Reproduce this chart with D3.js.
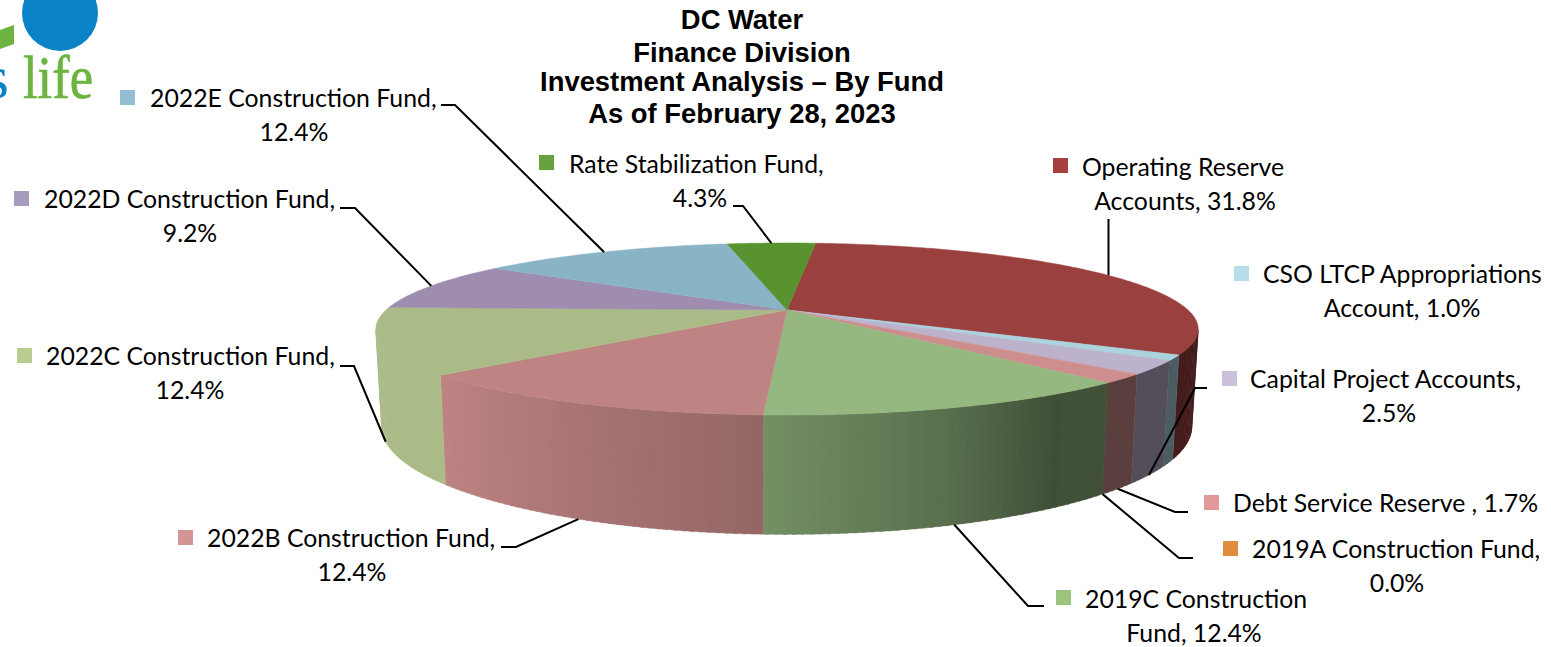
<!DOCTYPE html>
<html>
<head>
<meta charset="utf-8">
<script src="https://cdn.jsdelivr.net/npm/d3@7"></script>
<style>
html, body { margin: 0; padding: 0; background: #fff; }
svg { display: block; }
.title { font-family: "Liberation Sans", Arial, sans-serif; font-weight: bold; font-size: 27.4px; fill: #000; text-anchor: middle; }
.lbl { font-family: Lato, "Open Sans", sans-serif; font-size: 24.8px; fill: #000; }
</style>
</head>
<body>
<svg id="chart" width="1551" height="647"></svg>
<script>
var titleLines = ["DC Water", "Finance Division", "Investment Analysis \u2013 By Fund", "As of February 28, 2023"];

// clockwise from the top of the pie
var categories = ["Operating Reserve Accounts", "CSO LTCP Appropriations Account", "Capital Project Accounts",
	"Debt Service Reserve ", "2019A Construction Fund", "2019C Construction Fund", "2022B Construction Fund",
	"2022C Construction Fund", "2022D Construction Fund", "2022E Construction Fund", "Rate Stabilization Fund"];
var values = [31.8, 1.0, 2.5, 1.7, 0.0, 12.4, 12.4, 12.4, 9.2, 12.4, 4.3];
var topColors = ["#9a403e", "#aad3de", "#bcb2cc", "#ce8e8d", "#e08b3e", "#94b880", "#be8483", "#abbb88", "#9e8daf", "#88b4c6", "#59932f"];
var keyColors = ["#a5403e", "#b7dee8", "#ccc1da", "#e09a99", "#e08b3e", "#9bc57f", "#d39594", "#b8cc8f", "#a99bbd", "#93bdd2", "#68a23d"];

// label placement, same order as categories: [key x, key y, first line x, second line centre]
var labelPos = [[1053,158,1082,1185], [1234,266,1263,1402], [1222,371,1250,1389], [1204,495,1233,null], [1223,541,1252,1397],
	[1056,590,1085,1194], [178,530,207,352], [17,348,46,190], [14,191,44,190], [120,90,150,294], [539,155,569,700]];
// characters of the "name, value%" text that stay on the first line (null = all)
var labelBreak = ["Operating Reserve", "CSO LTCP Appropriations", null, null, null, "2019C Construction", null, null, null, null, null];
// elbow of each leader: [elbow x, elbow y, end x] (null = no leader)
var leaders = [[null,219,null], null, [1195,388,1207], [1175,512,1188], [1179,558,1193],
	[1028,606,1044], [516,547,501], [354,366,340], [355,208,340], [455,105,441], [743,206,733]];

var svg = d3.select("#chart");
var toRad = Math.PI / 180;

//tilted disc: near side is bigger than far side
var cx = 787, cy = 310, rx = 401, ry = 81.8, persp = 0.221, wallH = 93, wallPinch = 0.985, wallCx = 770;
function project(a, bottom) {
	var u = Math.sin(a), v = Math.cos(a);
	var s = 1 / (1 + persp * v);
	var x = cx + rx * u * s, y = cy - ry * v * s;
	if (bottom) {
		x = wallCx + (x - wallCx) * wallPinch;
		y = y + wallH * s;
	}
	return [x, y];
}

var pie = d3.pie().sort(null).value(function(d) { return d; })
	.startAngle(5 * toRad).endAngle(365 * toRad);
var arcs = pie(values);

var shade = d3.scaleLinear().domain([146, 161, 183, 228]).range([0.42, 0.6, 0.78, 1]).clamp(true);
function wallColor(base, deg) {
	var c = d3.rgb(base), f = deg < 146 ? 0.44 : shade(deg);
	return d3.rgb(c.r * f, c.g * f, c.b * f).formatRgb();
}

//logo scrap in the corner
var logo = svg.append("g");
logo.append("circle").attr("cx", 60).attr("cy", 13).attr("r", 38).attr("fill", "#0a82c6");
logo.append("path").attr("d", "M0,30L14,25L14,44L0,49Z").attr("fill", "#6db33f");
logo.append("text").attr("x", 23).attr("y", 98).attr("textLength", 70).attr("lengthAdjust", "spacingAndGlyphs")
	.style("font", "62px 'Liberation Serif'").attr("fill", "#6db33f").attr("stroke", "#6db33f").attr("stroke-width", 0.7).text("life");
logo.append("text").attr("x", 9).attr("y", 98).attr("text-anchor", "end")
	.style("font", "62px 'Liberation Serif'").attr("fill", "#0a82c6").text("s");

//side wall, cut in thin strips so the shading follows the rim
var wallFrom = 102.8, wallTo = 257.2;
var walls = svg.append("g");
arcs.forEach(function(d, i) {
	var a0 = Math.max(d.startAngle / toRad, wallFrom), a1 = Math.min(d.endAngle / toRad, wallTo);
	for (var a = a0; a < a1; a += 1) {
		var b = Math.min(a + 1.3, a1);
		var p = [project(a * toRad), project(b * toRad), project(b * toRad, true), project(a * toRad, true)];
		var col = wallColor(topColors[i], a + 0.5);
		walls.append("path").attr("d", "M" + p.join("L") + "Z").attr("fill", col)
			.attr("stroke", col).attr("stroke-width", 0.4);
	}
});

//top of the pie
var topFace = svg.append("g");
var rimLine = d3.line();
topFace.selectAll("path").data(arcs).enter().append("path")
	.attr("d", function(d) {
		var pts = [[cx, cy]];
		var n = Math.ceil((d.endAngle - d.startAngle) / toRad);
		for (var k = 0; k <= n; k++)
			pts.push(project(d.startAngle + (d.endAngle - d.startAngle) * k / n));
		return rimLine(pts) + "Z";
	})
	.attr("fill", function(d, i) { return topColors[i]; })
	.attr("stroke", function(d, i) { return d.value > 0 ? topColors[i] : "none"; })
	.attr("stroke-width", 0.5);

//leaders: start on the rim at the middle of the slice
var leaderGroup = svg.append("g").attr("fill", "none").attr("stroke", "#000").attr("stroke-width", 2);
arcs.forEach(function(d, i) {
	if (!leaders[i]) return;
	var mid = (d.startAngle + d.endAngle) / 2;
	var deg = mid / toRad;
	var front = deg > wallFrom && deg < wallTo;
	var start = project(mid, front);
	var e = leaders[i];
	var pts = [start, [e[0] === null ? start[0] : e[0], e[1]]];
	if (e[2] !== null) pts.push([e[2], e[1]]);
	leaderGroup.append("path").attr("d", "M" + pts.join("L"));
});

//labels with colour keys
var baselines = [176, 283, 388, 512, 558, 608, 547, 365, 208, 107, 173];
var labels = svg.append("g");
arcs.forEach(function(d, i) {
	var pos = labelPos[i];
	var text = categories[i] + ", " + d3.format(".1f")(values[i]) + "%";
	var first = text, second = null;
	if (pos[3] !== null) {
		first = labelBreak[i] || (categories[i] + ",");
		second = text.slice(first.length).trim();
	}
	labels.append("rect").attr("x", pos[0]).attr("y", pos[1]).attr("width", 15).attr("height", 15).attr("fill", keyColors[i]);
	labels.append("text").attr("class", "lbl").attr("x", pos[2]).attr("y", baselines[i]).text(first);
	if (second)
		labels.append("text").attr("class", "lbl").attr("x", pos[3]).attr("y", baselines[i] + 34)
			.attr("text-anchor", "middle").text(second);
});

//title
var titleY = [29, 62, 91, 123];
svg.append("g").selectAll("text").data(titleLines).enter().append("text")
	.attr("class", "title").attr("x", 742)
	.attr("y", function(d, i) { return titleY[i]; })
	.text(function(d) { return d; });
</script>
</body>
</html>
